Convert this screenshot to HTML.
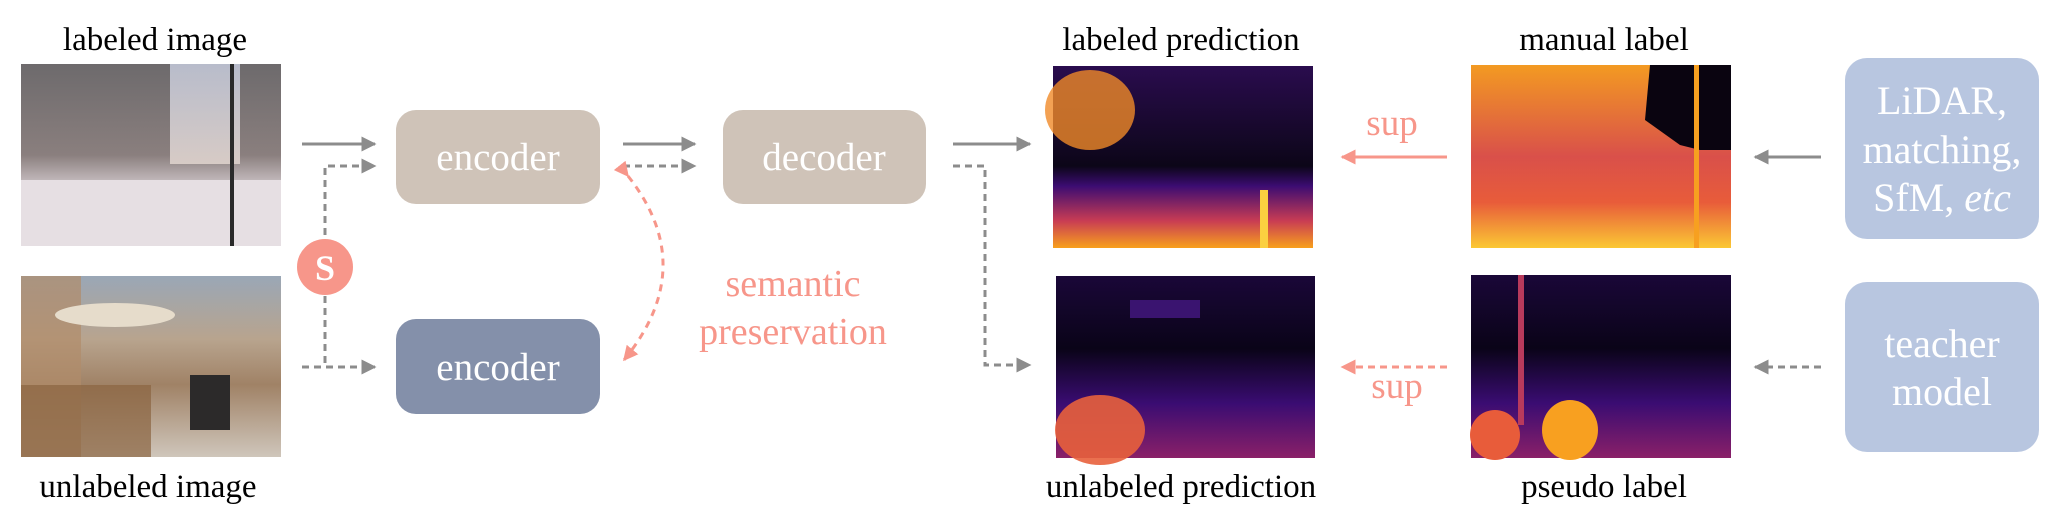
<!DOCTYPE html>
<html><head><meta charset="utf-8"><style>
html,body{margin:0;padding:0;background:#fff;width:2055px;height:518px;overflow:hidden}
svg text{font-family:"Liberation Serif",serif}
</style></head><body>
<svg width="2055" height="518" viewBox="0 0 2055 518" xmlns="http://www.w3.org/2000/svg">
<defs>
<marker id="ag" viewBox="0 0 10 10" refX="9" refY="5" markerWidth="5" markerHeight="5" orient="auto"><path d="M0,0L10,5L0,10z" fill="#8c8c8c"/></marker>
<marker id="ap" viewBox="0 0 10 10" refX="9" refY="5" markerWidth="5" markerHeight="5" orient="auto"><path d="M0,0L10,5L0,10z" fill="#f7968a"/></marker>
<linearGradient id="snow" x1="0" y1="0" x2="0" y2="1"><stop offset="0" stop-color="#6d6a6c"/><stop offset="0.5" stop-color="#8a7f7e"/><stop offset="0.7" stop-color="#d8cfd3"/><stop offset="1" stop-color="#ece6ea"/></linearGradient>
<linearGradient id="sky" x1="0" y1="0" x2="0" y2="1"><stop offset="0" stop-color="#b8bccb"/><stop offset="1" stop-color="#d7cbc6"/></linearGradient>
<linearGradient id="street" x1="0" y1="0" x2="0" y2="1"><stop offset="0" stop-color="#9aa7b6"/><stop offset="0.35" stop-color="#b8a48e"/><stop offset="0.6" stop-color="#a08266"/><stop offset="1" stop-color="#cfc6bb"/></linearGradient>
<linearGradient id="lp" x1="0" y1="0" x2="0" y2="1"><stop offset="0" stop-color="#2a0c4e"/><stop offset="0.55" stop-color="#0c0618"/><stop offset="0.66" stop-color="#3c0c72"/><stop offset="0.85" stop-color="#c83c54"/><stop offset="1" stop-color="#f8a01c"/></linearGradient>
<linearGradient id="ml" x1="0" y1="0" x2="0" y2="1"><stop offset="0" stop-color="#f39a22"/><stop offset="0.5" stop-color="#d9504a"/><stop offset="0.75" stop-color="#e85c3a"/><stop offset="1" stop-color="#fbc834"/></linearGradient>
<linearGradient id="up" x1="0" y1="0" x2="0" y2="1"><stop offset="0" stop-color="#1a0738"/><stop offset="0.4" stop-color="#0a0418"/><stop offset="0.7" stop-color="#3a0c72"/><stop offset="1" stop-color="#8a2068"/></linearGradient>
</defs>

<text x="155" y="50" font-size="33" text-anchor="middle">labeled image</text>
<g>
<rect x="21" y="64" width="260" height="182" fill="url(#snow)"/>
<rect x="170" y="64" width="70" height="100" fill="url(#sky)"/>
<rect x="21" y="180" width="260" height="66" fill="#e6dfe3"/>
<rect x="230" y="64" width="4" height="182" fill="#2a2a2a"/>
</g>
<g>
<rect x="21" y="276" width="260" height="181" fill="url(#street)"/>
<rect x="21" y="276" width="60" height="181" fill="#b08c6a" opacity="0.7"/>
<ellipse cx="115" cy="315" rx="60" ry="12" fill="#e6dccb"/>
<rect x="190" y="375" width="40" height="55" fill="#2c2a2a"/>
<rect x="21" y="385" width="130" height="72" fill="#8a6440" opacity="0.7"/>
</g>
<text x="148" y="497" font-size="33" text-anchor="middle">unlabeled image</text>

<g fill="none" stroke="#8c8c8c" stroke-width="3">
<line x1="302" y1="144" x2="375" y2="144" marker-end="url(#ag)"/>
<polyline points="325,235 325,166 375,166" stroke-dasharray="7,5" marker-end="url(#ag)"/>
<polyline points="302,367 325,367 375,367" stroke-dasharray="7,5" marker-end="url(#ag)"/>
<line x1="325" y1="296" x2="325" y2="367" stroke-dasharray="7,5"/>
<line x1="623" y1="144" x2="695" y2="144" marker-end="url(#ag)"/>
<line x1="623" y1="166" x2="695" y2="166" stroke-dasharray="7,5" marker-end="url(#ag)"/>
<line x1="953" y1="144" x2="1030" y2="144" marker-end="url(#ag)"/>
<polyline points="953,166 985,166 985,365 1030,365" stroke-dasharray="7,5" marker-end="url(#ag)"/>
<line x1="1821" y1="157" x2="1755" y2="157" marker-end="url(#ag)"/>
<line x1="1821" y1="367" x2="1755" y2="367" stroke-dasharray="7,5" marker-end="url(#ag)"/>
</g>

<circle cx="325" cy="267" r="28" fill="#f7968a"/>
<text x="325" y="280" font-size="36" font-weight="bold" fill="#fff" text-anchor="middle">S</text>

<rect x="396" y="110" width="204" height="94" rx="20" fill="#cfc3b8"/>
<text x="498" y="170" font-size="39" fill="#fff" text-anchor="middle">encoder</text>
<rect x="723" y="110" width="203" height="94" rx="20" fill="#cfc3b8"/>
<text x="824" y="170" font-size="39" fill="#fff" text-anchor="middle">decoder</text>
<rect x="396" y="319" width="204" height="95" rx="20" fill="#8490aa"/>
<text x="498" y="380" font-size="39" fill="#fff" text-anchor="middle">encoder</text>

<path d="M628,176 Q700,267 624,360" fill="none" stroke="#f7968a" stroke-width="3" stroke-dasharray="7,6" marker-start="url(#ap)" marker-end="url(#ap)"/>
<text x="793" y="296" font-size="38" fill="#f7968a" text-anchor="middle">semantic</text>
<text x="793" y="344" font-size="38" fill="#f7968a" text-anchor="middle">preservation</text>

<text x="1181" y="50" font-size="33" text-anchor="middle">labeled prediction</text>
<g>
<rect x="1053" y="66" width="260" height="182" fill="url(#lp)"/>
<ellipse cx="1090" cy="110" rx="45" ry="40" fill="#f08a28" opacity="0.8"/>
<rect x="1260" y="190" width="8" height="58" fill="#fbd040"/>
</g>
<text x="1604" y="50" font-size="33" text-anchor="middle">manual label</text>
<g>
<rect x="1471" y="65" width="260" height="183" fill="url(#ml)"/>
<path d="M1650,65 L1731,65 L1731,150 L1700,150 L1680,145 L1645,120z" fill="#0a0410"/>
<rect x="1694" y="65" width="5" height="183" fill="#f7a020"/>
</g>
<text x="1181" y="497" font-size="33" text-anchor="middle">unlabeled prediction</text>
<g>
<rect x="1056" y="276" width="259" height="182" fill="url(#up)"/>
<ellipse cx="1100" cy="430" rx="45" ry="35" fill="#e8603c" opacity="0.9"/>
<rect x="1130" y="300" width="70" height="18" fill="#3a1470"/>
</g>
<text x="1604" y="497" font-size="33" text-anchor="middle">pseudo label</text>
<g>
<rect x="1471" y="275" width="260" height="183" fill="url(#up)"/>
<rect x="1518" y="275" width="6" height="150" fill="#b83a5c"/>
<ellipse cx="1570" cy="430" rx="28" ry="30" fill="#f8a020"/>
<ellipse cx="1495" cy="435" rx="25" ry="25" fill="#e85c3a"/>
</g>

<text x="1392" y="135" font-size="37" fill="#f7968a" text-anchor="middle">sup</text>
<line x1="1447" y1="157" x2="1342" y2="157" stroke="#f7968a" stroke-width="3" marker-end="url(#ap)"/>
<line x1="1447" y1="367" x2="1342" y2="367" stroke="#f7968a" stroke-width="3" stroke-dasharray="7,5" marker-end="url(#ap)"/>
<text x="1397" y="398" font-size="37" fill="#f7968a" text-anchor="middle">sup</text>

<rect x="1845" y="58" width="194" height="181" rx="22" fill="#b8c6e0"/>
<text x="1942" y="114" font-size="40" fill="#fff" text-anchor="middle">LiDAR,</text>
<text x="1942" y="163" font-size="40" fill="#fff" text-anchor="middle">matching,</text>
<text x="1942" y="211" font-size="40" fill="#fff" text-anchor="middle">SfM, <tspan font-style="italic">etc</tspan></text>
<rect x="1845" y="282" width="194" height="170" rx="22" fill="#b8c6e0"/>
<text x="1942" y="357" font-size="40" fill="#fff" text-anchor="middle">teacher</text>
<text x="1942" y="405" font-size="40" fill="#fff" text-anchor="middle">model</text>
</svg>
</body></html>
